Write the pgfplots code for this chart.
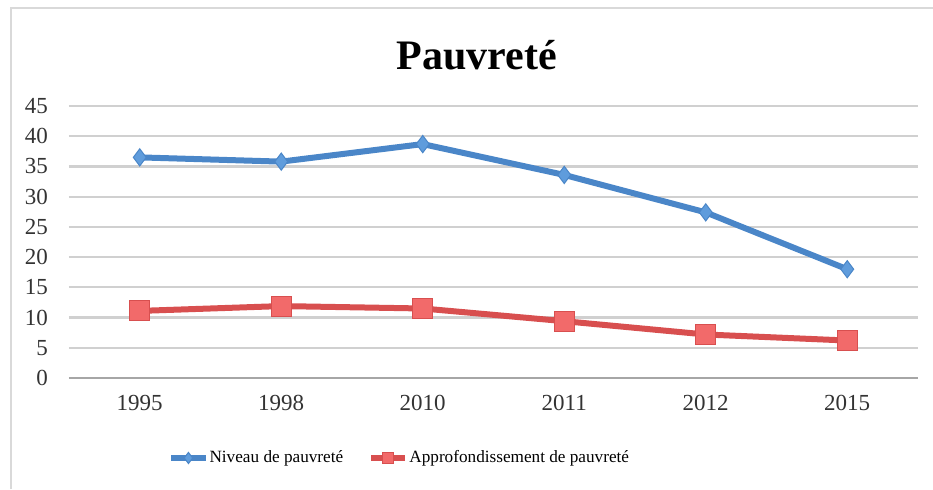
\documentclass[border=0pt]{standalone}
\usepackage{fontspec}
\setmainfont{Liberation Serif}
\usepackage{pgfplots}
\pgfplotsset{compat=1.18}
\definecolor{blueline}{HTML}{4A86C8}
\definecolor{bluefill}{HTML}{5F9CDC}
\definecolor{redline}{HTML}{D84F4F}
\definecolor{redfill}{HTML}{F26A6A}
\definecolor{gridgray}{HTML}{D0D0D0}
\definecolor{framegray}{HTML}{D9D9D9}
\begin{document}
\begin{tikzpicture}
\path[use as bounding box] (-34.5pt,-55.5pt) rectangle (432pt,189pt);
\draw[framegray, line width=1pt] (-29pt,-55.5pt) -- (-29pt,185.25pt) -- (432pt,185.25pt);
\begin{axis}[
  at={(0pt,0pt)}, anchor=south west,
  scale only axis, width=424.5pt, height=136pt,
  xmin=-0.5, xmax=5.5, ymin=0, ymax=45,
  xtick={0,1,2,3,4,5},
  xticklabels={1995,1998,2010,2011,2012,2015},
  ytick={0,5,...,45},
  ymajorgrids, major grid style={gridgray, line width=1.1pt},
  axis x line*=bottom, axis y line*=left,
  x axis line style={draw=gray!70, line width=0.8pt, -},
  y axis line style={draw=none},
  major tick length=0pt,
  tick label style={font=\fontsize{11.5}{13}\selectfont, text=black!80},
  /pgf/number format/assume math mode=true,
  yticklabel style={xshift=-7pt},
  xticklabel style={yshift=-5pt},
  clip=false,
  legend columns=2,
  legend style={draw=none, fill=none, at={(rel axis cs:0.1166,-0.294)}, anchor=west,
    font=\fontsize{8.6}{10}\selectfont, inner sep=0pt,
    nodes={inner xsep=0.5pt},
    /tikz/every even column/.append style={column sep=12pt}},
  legend image code/.code={\draw[mark repeat=2,mark phase=2,#1,mark size=2.8pt] plot coordinates {(0cm,0cm) (0.3cm,0cm) (0.6cm,0cm)};},
]
\addplot[blueline, line width=3pt, mark=diamond*, mark size=4.3pt,
  mark options={fill=bluefill, draw=blueline, line width=0.5pt}]
  coordinates {(0,36.5) (1,35.8) (2,38.7) (3,33.6) (4,27.4) (5,18.0)};
\addlegendentry{Niveau de pauvreté}
\addplot[redline, line width=3pt, mark=square*, mark size=5pt,
  mark options={fill=redfill, draw=redline, line width=0.5pt}]
  coordinates {(0,11.1) (1,11.9) (2,11.5) (3,9.4) (4,7.2) (5,6.2)};
\addlegendentry{Approfondissement de pauvreté}
\end{axis}
\node[font=\bfseries\fontsize{21}{24}\selectfont] at (204pt,161.5pt) {Pauvreté};
\end{tikzpicture}
\end{document}
